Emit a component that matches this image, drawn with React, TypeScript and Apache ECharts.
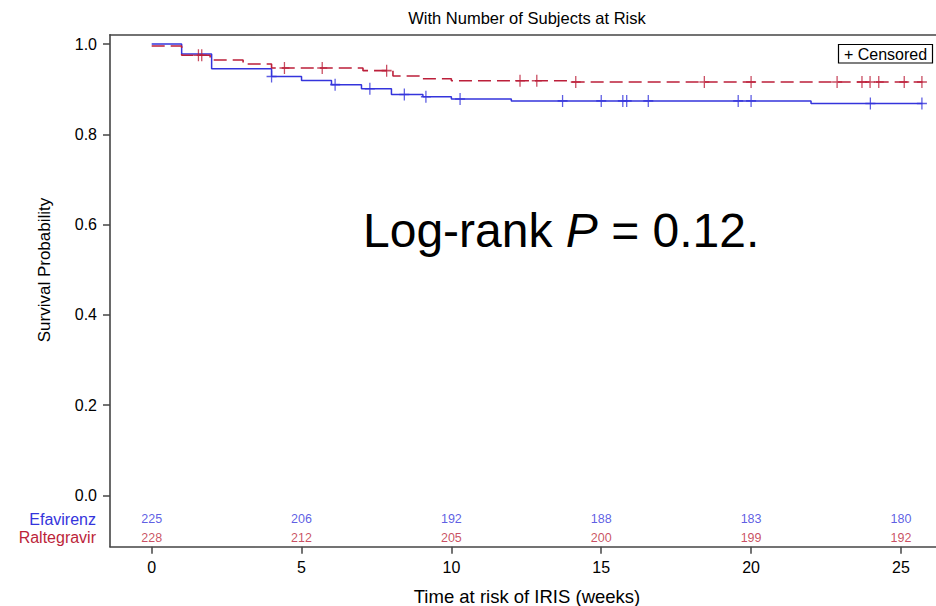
import React, { useEffect, useRef } from "react";
import * as echarts from "echarts";

// ---- Data ----
const efavirenzTimes = [0, 1.0, 2.0, 4.0, 5.0, 6.0, 7.0, 8.0, 9.05, 10.0, 12.0, 22.0, 25.72];
const efavirenzSurv = [1.0, 0.978, 0.945, 0.928, 0.919, 0.91, 0.901, 0.888, 0.883, 0.878, 0.874, 0.868, 0.868];
const efavirenzCensor = [4.0, 6.12, 7.28, 8.43, 9.15, 10.29, 13.71, 15.0, 15.72, 15.85, 16.57, 19.57, 20.0, 23.98, 25.7];

const raltegravirTimes = [0, 1.0, 1.95, 3.05, 4.0, 7.05, 8.05, 9.0, 10.0, 14.02, 25.72];
const raltegravirSurv = [0.9956, 0.975, 0.9646, 0.9557, 0.947, 0.941, 0.929, 0.923, 0.9187, 0.9158, 0.9158];
const raltegravirCensor = [1.56, 1.67, 4.43, 5.69, 7.84, 12.29, 12.85, 14.15, 18.44, 20.0, 22.87, 23.7, 23.97, 24.26, 25.11, 25.7];

const atRiskWeeks = [0, 5, 10, 15, 20, 25];
const efavirenzAtRisk = [225, 206, 192, 188, 183, 180];
const raltegravirAtRisk = [228, 212, 205, 200, 199, 192];

const xTicks = [0, 5, 10, 15, 20, 25];
const yTicks = [0, 0.2, 0.4, 0.6, 0.8, 1.0];

// ---- Style / layout ----
const FONT = '"Liberation Sans", Arial, Helvetica, sans-serif';
const BLUE = "#3434dc";
const RED = "#bc1f3a";
const AXIS = "#444";
const ROW_Y_EFV = -0.052;
const ROW_Y_RAL = -0.0935;
const X_MIN = -1.391;
const X_MAX = 26.17;
const Y_MIN = -0.1134;
const Y_MAX = 1.0206;

function survAt(times: number[], surv: number[], t: number) {
  let v = surv[0];
  for (let i = 0; i < times.length; i++) {
    if (times[i] <= t) v = surv[i];
  }
  return v;
}

const PLUS = "path://M5,0L5,12M0,6L10,6";

function txt(text: string, x: number, y: number, size: number, fill: string, align: string, extra: any = {}) {
  return {
    type: "text",
    x,
    y,
    ...extra,
    style: {
      text,
      fill,
      fontSize: size,
      fontFamily: FONT,
      align,
      verticalAlign: "middle",
      textAlign: align,
      textVerticalAlign: "middle",
    },
  };
}

export default function App() {
  const ref = useRef<HTMLDivElement>(null);
  useEffect(() => {
    const chart = echarts.init(ref.current!, null, { renderer: "svg" });
    const option: any = {
      animation: false,
      grid: { left: 110, right: 0, top: 34.7, bottom: 59.3, containLabel: false },
      xAxis: [
        {
          type: "value",
          min: X_MIN,
          max: X_MAX,
          position: "bottom",
          splitLine: { show: false },
          axisLine: { show: true, onZero: false, lineStyle: { color: AXIS, width: 1.6 } },
          axisTick: { show: true, length: 7, customValues: xTicks, lineStyle: { color: AXIS, width: 1.5 } },
          axisLabel: {
            customValues: xTicks,
            margin: 13,
            fontSize: 16,
            fontFamily: FONT,
            color: "#000",
            formatter: (v: number) => String(v),
          },
        },
        {
          type: "value",
          min: X_MIN,
          max: X_MAX,
          position: "top",
          splitLine: { show: false },
          axisLine: { show: true, onZero: false, lineStyle: { color: AXIS, width: 1.6 } },
          axisTick: { show: false },
          axisLabel: { show: false },
        },
      ],
      yAxis: {
        type: "value",
        min: Y_MIN,
        max: Y_MAX,
        splitLine: { show: false },
        axisLine: { show: true, onZero: false, lineStyle: { color: AXIS, width: 1.6 } },
        axisTick: { show: true, length: 7, customValues: yTicks, lineStyle: { color: AXIS, width: 1.5 } },
        axisLabel: {
          customValues: yTicks,
          margin: 13,
          fontSize: 16,
          fontFamily: FONT,
          color: "#000",
          formatter: (v: number) => v.toFixed(1),
        },
      },
      series: [
        {
          name: "Raltegravir",
          type: "line",
          step: "end",
          symbol: "none",
          silent: true,
          data: raltegravirTimes.map((t, i) => [t, raltegravirSurv[i]]),
          lineStyle: { color: RED, width: 1.6, type: [13, 6] },
          z: 3,
        },
        {
          name: "Efavirenz",
          type: "line",
          step: "end",
          symbol: "none",
          silent: true,
          data: efavirenzTimes.map((t, i) => [t, efavirenzSurv[i]]),
          lineStyle: { color: BLUE, width: 1.5 },
          z: 2,
        },
        {
          name: "Raltegravir censored",
          type: "scatter",
          silent: true,
          symbol: PLUS,
          symbolSize: [10, 12],
          data: raltegravirCensor.map((t) => [t, survAt(raltegravirTimes, raltegravirSurv, t)]),
          itemStyle: { color: "transparent", borderColor: RED, borderWidth: 1.4 },
          z: 4,
        },
        {
          name: "Efavirenz censored",
          type: "scatter",
          silent: true,
          symbol: PLUS,
          symbolSize: [10, 12],
          data: efavirenzCensor.map((t) => [t, survAt(efavirenzTimes, efavirenzSurv, t)]),
          itemStyle: { color: "transparent", borderColor: BLUE, borderWidth: 1.4 },
          z: 4,
        },
        {
          name: "Efavirenz at risk",
          type: "scatter",
          silent: true,
          symbolSize: 1,
          itemStyle: { color: "transparent" },
          data: atRiskWeeks.map((w, i) => [w, ROW_Y_EFV, efavirenzAtRisk[i]]),
          label: {
            show: true,
            position: "inside",
            formatter: (p: any) => String(p.value[2]),
            color: BLUE,
            fontSize: 12.5,
            fontFamily: FONT,
          },
        },
        {
          name: "Raltegravir at risk",
          type: "scatter",
          silent: true,
          symbolSize: 1,
          itemStyle: { color: "transparent" },
          data: atRiskWeeks.map((w, i) => [w, ROW_Y_RAL, raltegravirAtRisk[i]]),
          label: {
            show: true,
            position: "inside",
            formatter: (p: any) => String(p.value[2]),
            color: RED,
            fontSize: 12.5,
            fontFamily: FONT,
          },
        },
      ],
      graphic: [
        txt("With Number of Subjects at Risk", 527, 17.5, 16.5, "#000", "center"),
        txt("Survival Probability", 44, 270, 17, "#000", "center", { rotation: Math.PI / 2 }),
        txt("Time at risk of IRIS (weeks)", 527, 596, 18.5, "#000", "center"),
        {
          type: "text",
          x: 363,
          y: 230,
          style: {
            text: "{a|Log-rank }{b|P}{a| = 0.12.}",
            rich: {
              a: { fontSize: 48, fontFamily: FONT, fill: "#000", color: "#000" },
              b: { fontSize: 48, fontFamily: FONT, fontStyle: "italic", fill: "#000", color: "#000" },
            },
            fill: "#000",
            fontSize: 48,
            fontFamily: FONT,
            align: "left",
            verticalAlign: "middle",
            textAlign: "left",
            textVerticalAlign: "middle",
          },
        },
        {
          type: "rect",
          shape: { x: 838.5, y: 44.5, width: 94, height: 18.5 },
          style: { fill: "#fff", stroke: "#000", lineWidth: 1.2 },
          z: 10,
        },
        txt("+ Censored", 885.5, 54, 16, "#000", "center", { z: 11 }),
        txt("Efavirenz", 96, 519.3, 16, BLUE, "right"),
        txt("Raltegravir", 96, 537.7, 16, RED, "right"),
      ],
    };
    chart.setOption(option);
    return () => chart.dispose();
  }, []);
  return (
    <div
      ref={ref}
      style={{ position: "absolute", left: 0, top: 0, width: 936, height: 606, background: "#fff" }}
    />
  );
}
